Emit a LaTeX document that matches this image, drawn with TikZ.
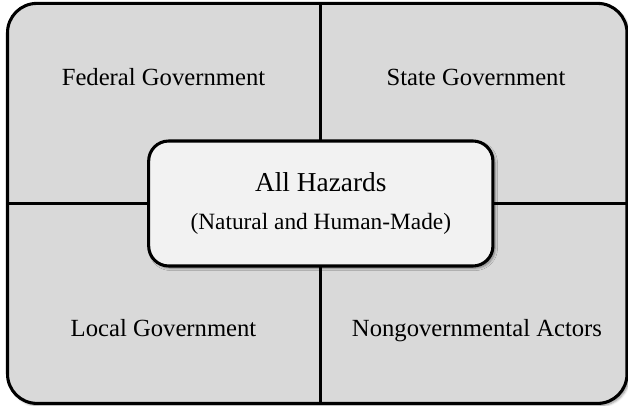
\documentclass[tikz,border=0pt]{standalone}
\usepackage{fontspec}
\setmainfont{Liberation Serif}
\usetikzlibrary{positioning,shadows.blur}

\tikzset{
  quadlabel/.style={anchor=base,font=\fontsize{18.5}{22}\selectfont},
  softshadow/.style={blur shadow={shadow xshift=1.6pt,shadow yshift=-1.6pt,shadow blur steps=6,shadow opacity=45}}
}

\begin{document}
\begin{tikzpicture}[x=0.75pt,y=-0.75pt,line width=2.3pt]
  \useasboundingbox (0,0) rectangle (628,406);
  % outer frame
  \node (frame) at (317.25,203.4) [draw,fill=black!15,rounded corners=22pt,minimum width=464.6pt,minimum height=300pt,inner sep=0pt,outer sep=0pt,softshadow] {};
  \coordinate (mid) at (320.8,203.5);
  % dividers
  \draw (frame.north -| mid) -- (frame.south -| mid);
  \draw (frame.west |- mid) -- (frame.east |- mid);
  % quadrant labels
  \node[quadlabel] (federal) at (163.5,86) {Federal Government};
  \node[quadlabel] (state) at (476,86) {State Government};
  \node[quadlabel] (local) at (163.5,336) {Local Government};
  \node[quadlabel] (actors) at (477,336) {Nongovernmental Actors};
  % center box
  \node (hazards) at (mid) [draw,fill=black!5,rounded corners=15pt,minimum width=258.2pt,minimum height=93.75pt,inner sep=0pt,outer sep=0pt,align=center,softshadow]
    {\fontsize{20.5}{24}\selectfont All Hazards\\[15pt]\fontsize{17.5}{21}\selectfont (Natural and Human-Made)};
\end{tikzpicture}
\end{document}
